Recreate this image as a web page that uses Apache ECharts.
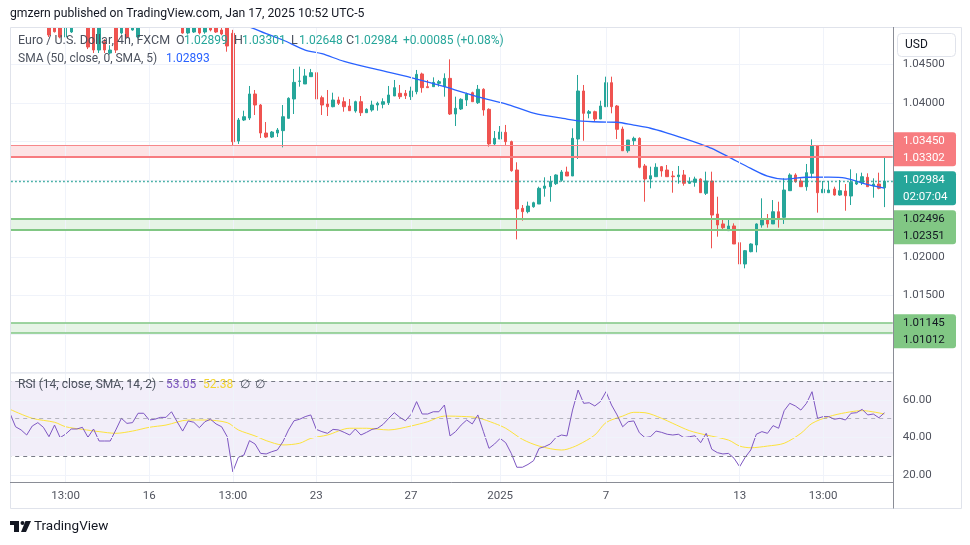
<!DOCTYPE html>
<html><head><meta charset="utf-8">
<script src="https://cdn.jsdelivr.net/npm/echarts@6/dist/echarts.min.js"></script>
<style>html,body{margin:0;padding:0;background:#fff}#c{width:970px;height:545px}</style>
</head><body><div id="c"></div><script>
// ---------- data ----------
const SLOTS = 159; // 158 candles + 1 empty slot on the right
const xLabelIdx = [10, 25, 40, 55, 72, 88, 107, 131, 146];
const xLabelText = ['13:00', '16', '13:00', '23', '27', '2025', '7', '13', '13:00'];

// [open, close, low, high]
const candles = [
[1.0520,1.0515,1.0510,1.0528],[1.0515,1.0526,1.0512,1.0530],[1.0526,1.0522,1.0518,1.0535],[1.0522,1.0511,1.0508,1.0527],
[1.0511,1.0506,1.0503,1.0520],[1.0506,1.0514,1.0502,1.0518],[1.0514,1.0505,1.0502,1.0519],[1.0505,1.04883,1.04857,1.0510],
[1.0500,1.04926,1.04915,1.0506],[1.0501,1.04857,1.0484,1.0507],[1.04857,1.0500,1.0484,1.0506],[1.04922,1.0505,1.0491,1.0510],
[1.0505,1.0512,1.0501,1.0515],[1.0512,1.0503,1.0500,1.0516],[1.0508,1.04727,1.0470,1.0512],[1.0502,1.04688,1.04649,1.0506],
[1.04688,1.0505,1.04649,1.0510],[1.04796,1.04688,1.04649,1.0483],[1.04649,1.04688,1.0463,1.0475],[1.0502,1.04688,1.04649,1.0506],
[1.04909,1.0505,1.0489,1.0510],[1.0505,1.04857,1.0484,1.0510],[1.04948,1.0504,1.0494,1.0508],[1.04857,1.0510,1.0484,1.0515],
[1.0510,1.0520,1.0503,1.0525],[1.0520,1.0516,1.0512,1.0530],[1.0516,1.0521,1.0506,1.0524],[1.0521,1.0510,1.0508,1.0526],
[1.0510,1.0514,1.0502,1.0518],[1.0514,1.0506,1.0503,1.0520],[1.0506,1.0512,1.0501,1.0515],[1.0512,1.04909,1.0490,1.0516],
[1.04909,1.0503,1.0489,1.0508],[1.04922,1.0506,1.0491,1.0510],[1.0506,1.04909,1.0489,1.0510],[1.04922,1.0502,1.0490,1.0507],
[1.0502,1.04948,1.0493,1.0505],[1.0503,1.04922,1.0491,1.0507],[1.04948,1.04896,1.0488,1.0501],[1.0502,1.04740,1.04666,1.0506],
[1.04905,1.03497,1.03442,1.0495],[1.03506,1.03779,1.03468,1.03805],[1.03779,1.03822,1.03766,1.0390],[1.03805,1.04117,1.03779,1.04221],
[1.04117,1.03974,1.03844,1.04169],[1.03974,1.0361,1.03545,1.03987],[1.0361,1.03558,1.03545,1.03753],[1.03558,1.03623,1.03545,1.03636],
[1.0361,1.03649,1.03558,1.03675],[1.03641,1.03822,1.03424,1.03974],[1.03801,1.04061,1.03795,1.04074],[1.04052,1.04268,1.03857,1.04442],
[1.04281,1.04286,1.04212,1.04472],[1.04247,1.04351,1.04247,1.04442],[1.04342,1.04394,1.04342,1.04442],[1.04394,1.04052,1.04052,1.04416],
[1.04069,1.03974,1.03844,1.04095],[1.03987,1.03952,1.03831,1.04169],[1.03952,1.04039,1.03944,1.04134],[1.04039,1.03996,1.03974,1.04082],
[1.04017,1.03952,1.03887,1.04074],[1.03961,1.039,1.03896,1.04052],[1.03896,1.04017,1.03874,1.0403],[1.04017,1.03874,1.03831,1.04091],
[1.03874,1.03918,1.0387,1.03931],[1.03909,1.03974,1.03887,1.0403],[1.03974,1.03996,1.039,1.04017],[1.03983,1.04017,1.03931,1.04061],
[1.04004,1.04104,1.03974,1.04221],[1.04091,1.04199,1.04091,1.04299],[1.04126,1.04082,1.04052,1.04234],[1.04126,1.04095,1.04052,1.04169],
[1.04082,1.04156,1.04039,1.04212],[1.04147,1.04372,1.04113,1.04429],[1.04377,1.04199,1.04134,1.04394],[1.04212,1.04199,1.04199,1.04299],
[1.04212,1.04268,1.04212,1.04333],[1.04255,1.04277,1.04212,1.04299],[1.04212,1.0432,1.04082,1.04385],[1.0432,1.03857,1.03844,1.04567],
[1.03857,1.03931,1.03701,1.04082],[1.03922,1.04048,1.03909,1.04061],[1.04039,1.04117,1.03961,1.04134],[1.04134,1.04017,1.04017,1.04147],
[1.04004,1.04178,1.03987,1.04234],[1.04178,1.03909,1.03835,1.04191],[1.03918,1.03468,1.03433,1.03931],[1.03468,1.03541,1.03446,1.03636],
[1.03532,1.03623,1.03532,1.03701],[1.03619,1.03498,1.03455,1.03715],[1.03498,1.03121,1.03108,1.03511],[1.0313,1.02623,1.02229,1.0323],
[1.02632,1.02589,1.02472,1.02675],[1.02589,1.02662,1.02567,1.02719],[1.02653,1.02705,1.0264,1.02718],[1.02688,1.02892,1.02688,1.02913],
[1.02892,1.02922,1.02783,1.03035],[1.02913,1.02978,1.02718,1.03052],[1.02952,1.03065,1.02935,1.03074],[1.02996,1.03104,1.02978,1.0313],
[1.03104,1.03052,1.03052,1.03173],[1.03052,1.03541,1.03052,1.03671],[1.03532,1.04156,1.03273,1.04364],[1.04156,1.03866,1.0351,1.04234],
[1.03866,1.03887,1.03801,1.03909],[1.03887,1.03792,1.03757,1.039],[1.03792,1.03961,1.03792,1.0403],[1.03952,1.04264,1.03952,1.04342],
[1.04264,1.03952,1.03866,1.04342],[1.03961,1.03658,1.03532,1.03974],[1.03662,1.0338,1.0338,1.03693],[1.0338,1.03519,1.03354,1.03519],
[1.0351,1.03541,1.03455,1.03563],[1.03541,1.03165,1.03152,1.03554],[1.03182,1.03013,1.02718,1.03208],[1.03013,1.03056,1.02892,1.03173],
[1.03043,1.03165,1.03043,1.03217],[1.03173,1.03117,1.03043,1.03182],[1.0313,1.03043,1.03043,1.03195],[1.03052,1.03043,1.02835,1.03117],
[1.03043,1.03065,1.02952,1.03182],[1.03065,1.02957,1.02926,1.0313],[1.02957,1.02978,1.02948,1.03035],[1.0297,1.03013,1.02913,1.03043],
[1.03013,1.02835,1.02835,1.03022],[1.02827,1.02987,1.02805,1.03108],[1.02987,1.02545,1.02113,1.03108],[1.02558,1.02416,1.02264,1.02783],
[1.02429,1.02381,1.02342,1.02481],[1.02342,1.02403,1.02342,1.0249],[1.02403,1.02169,1.02169,1.02437],[1.02186,1.01909,1.01757,1.02307],
[1.01909,1.02082,1.01853,1.02091],[1.02069,1.02169,1.02061,1.02178],[1.02156,1.02429,1.02061,1.02437],[1.02416,1.02481,1.02381,1.02762],
[1.0249,1.02429,1.02381,1.02558],[1.02429,1.02588,1.02429,1.0274],[1.02588,1.02502,1.02381,1.02718],[1.02515,1.0287,1.02429,1.03022],
[1.02861,1.03065,1.02861,1.03087],[1.03065,1.02978,1.02965,1.03087],[1.02987,1.02913,1.02913,1.03022],[1.02913,1.03095,1.02861,1.03208],
[1.03087,1.03442,1.03022,1.03528],[1.03442,1.02835,1.02576,1.03455],[1.02835,1.02879,1.02835,1.02987],[1.02835,1.0287,1.02835,1.02987],
[1.02883,1.02805,1.02796,1.02913],[1.02805,1.02861,1.02796,1.03],[1.02857,1.02796,1.02601,1.02948],[1.02792,1.0297,1.02675,1.03139],
[1.02948,1.0297,1.02935,1.03087],[1.02965,1.03043,1.02935,1.03095],[1.03035,1.02913,1.02913,1.03087],[1.02922,1.02948,1.0277,1.03022],
[1.02948,1.02892,1.02879,1.03095],[1.02899,1.02984,1.02648,1.03301]
];

// SMA(50) read at sampled candles: [candle index, value]
const smaPts = [[0,1.0538],[10,1.0534],[20,1.0527],[30,1.0519],[38,1.0512],[43,1.0499],[46,1.0490],[49,1.04818],[53,1.04688],
[56,1.04640],[60,1.04540],[66,1.04432],[72,1.04330],[78,1.04212],[84,1.04080],[89,1.03990],[94,1.03868],[100,1.03792],
[102,1.03768],[106,1.03753],[109,1.03750],[112,1.03712],[115,1.03672],[118,1.03610],[121,1.03540],[124,1.03465],[126,1.03410],
[129,1.03300],[133,1.03150],[136,1.03050],[139,1.03012],[143,1.03036],[147,1.03038],[150,1.03025],[153,1.02960],[157,1.02893]];

const rsi = [52.8,45.6,43.9,41.2,46,47.8,45.3,40.3,46.5,39.8,41.7,44.4,44.4,45.3,40,44.4,38,38,38,43.9,
50.1,47.4,47.8,52.8,52.8,49.2,49.6,50.6,50.6,53.6,48.3,43.3,48.7,48,45.1,48.3,49.6,47.1,45.6,40.3,
21.6,29.3,30.5,38.2,36.4,31.4,31.1,32.3,33.2,37.6,43.9,48.8,49.6,51,51.9,44.2,43,42.1,44.2,43.9,
42.6,41.2,44.4,41.2,42.6,44.2,44.8,46.9,50.1,53.1,50.6,48.8,52.2,59,52.4,52.4,53.6,53.6,57.2,40.7,
43,46.5,49.2,47.1,51.9,43,34.1,36.4,39.4,37.1,31.4,24,24,25.5,27.5,34.1,35,36.4,39.8,41.2,
40.7,54.5,65.2,58.1,58.4,56.7,59,64.3,57.2,51.9,45.6,48.3,48.7,42.4,39.8,40.3,43.3,42.6,41.6,41.2,
41.6,39.8,40.3,40.8,37.1,42.1,33.6,31.8,31.1,31.4,28.8,24.3,29.3,33.2,41.6,43,42.1,46.2,44.8,54.2,
58.1,56.7,54.5,58.1,64.3,50.1,51,51,49.6,50.1,49.2,52.8,53.1,54.9,51.9,52.4,50.4,53.05];

// RSI-based moving average read at sampled candles
const rsiMaPts = [[0,54.9],[4,50.1],[8,48],[10,45.6],[13,44.2],[16,43],[19,42.1],[22,43.3],[25,45.3],[28,46.5],[32,49.2],
[35,49.2],[39,47.8],[41,43.9],[44,40.7],[46,38.2],[49,35.9],[52,36.8],[54,39.4],[57,41.2],[61,44.8],[64,44.8],[68,43.9],
[72,46],[75,48.3],[78,51.3],[82,51],[84,50.4],[87,47.4],[89,44.8],[92,38.9],[95,35.3],[99,33.2],[100,33.6],[102,35.9],
[105,41.2],[107,47.8],[110,51.3],[112,53.3],[114,53.1],[117,50.1],[119,47.4],[122,43.5],[125,41.2],[129,38.5],[131,35.3],
[133,34.4],[136,35.3],[139,36.8],[142,42.1],[144,47.4],[147,51],[150,53.1],[153,54.2],[157,52.38]];

const resistance = [1.03450, 1.03302];
const support1 = [1.02496, 1.02351];
const support2 = [1.01145, 1.01012];
const lastPrice = 1.02984;
const countdown = '02:07:04';
const rsiUpper = 70, rsiMid = 50, rsiLower = 30;
const rsiGridLevels = [20, 40, 60];

// ---------- chart ----------
const FONT = 'Roboto, "Noto Sans", sans-serif';
const GRIDC = '#f0f3fa';
const cats = Array.from({length: SLOTS}, (_, i) => String(i));
const f5 = v => v.toFixed(5);
const vLines = xLabelIdx.map(i => ({xAxis: i, lineStyle: {color: GRIDC, width: 1, type: 'solid'}}));

const option = {
  animation: false,
  backgroundColor: '#ffffff',
  grid: [
    {left: 7.2, width: 885.6, top: 26, height: 346.5},
    {left: 7.2, width: 885.6, top: 373.5, height: 108.75}
  ],
  xAxis: [
    {type: 'category', gridIndex: 0, data: cats, boundaryGap: true, show: false},
    {type: 'category', gridIndex: 1, data: cats, boundaryGap: true,
      axisLine: {show: false}, axisTick: {show: false}, splitLine: {show: false},
      axisLabel: {
        interval: (i) => xLabelIdx.indexOf(i) >= 0,
        formatter: (v) => { const k = xLabelIdx.indexOf(+v); return k >= 0 ? xLabelText[k] : ''; },
        color: '#50535e', fontSize: 11.5, fontFamily: FONT, margin: 8
      }}
  ],
  yAxis: [
    {type: 'value', gridIndex: 0, position: 'right', min: 1.005, max: 1.050, interval: 0.005,
      axisLine: {show: false}, axisTick: {show: false},
      axisLabel: {formatter: v => v.toFixed(5), color: '#50535e', fontSize: 11.5, fontFamily: FONT, margin: 10,
        showMinLabel: false, showMaxLabel: false},
      splitLine: {show: true, lineStyle: {color: GRIDC, width: 1}}},
    {type: 'value', gridIndex: 1, position: 'right', min: 16, max: 74, interval: 2,
      axisLine: {show: false}, axisTick: {show: false},
      axisLabel: {formatter: v => rsiGridLevels.indexOf(Math.round(v)) >= 0 ? v.toFixed(2) : '',
        color: '#50535e', fontSize: 11.5, fontFamily: FONT, margin: 10, showMinLabel: false, showMaxLabel: false},
      splitLine: {show: false}}
  ],
  series: [
    { // bands, levels and vertical grid lines for the price pane
      type: 'line', xAxisIndex: 0, yAxisIndex: 0, data: [], z: 1, silent: true,
      markArea: {silent: true, data: [
        [{yAxis: resistance[0], itemStyle: {color: 'rgba(242,54,69,0.14)'}}, {yAxis: resistance[1]}],
        [{yAxis: support1[0], itemStyle: {color: 'rgba(76,175,80,0.14)'}}, {yAxis: support1[1]}],
        [{yAxis: support2[0], itemStyle: {color: 'rgba(76,175,80,0.14)'}}, {yAxis: support2[1]}]
      ]},
      markLine: {silent: true, precision: 6, symbol: ['none', 'none'], label: {show: false}, data: vLines.concat([
        {yAxis: resistance[0], lineStyle: {color: '#f7878b', width: 1, type: 'solid'}},
        {yAxis: resistance[1], lineStyle: {color: '#f77c80', width: 2, type: 'solid'}},
        {yAxis: support1[0], lineStyle: {color: '#81c784', width: 2, type: 'solid'}},
        {yAxis: support1[1], lineStyle: {color: '#81c784', width: 2, type: 'solid'}},
        {yAxis: support2[0], lineStyle: {color: '#81c784', width: 1.5, type: 'solid'}},
        {yAxis: support2[1], lineStyle: {color: '#81c784', width: 1.5, type: 'solid'}},
        {yAxis: lastPrice, lineStyle: {color: '#1e9e91', width: 1.4, type: [1.5, 2.5]}}
      ])}
    },
    {
      type: 'candlestick', xAxisIndex: 0, yAxisIndex: 0, data: candles, z: 3, barWidth: 3, clip: true,
      itemStyle: {color: '#26a69a', color0: '#ef5350', borderColor: '#26a69a', borderColor0: '#ef5350', borderWidth: 1}
    },
    {
      type: 'line', xAxisIndex: 0, yAxisIndex: 0, data: smaPts, z: 4, showSymbol: false, smooth: 0.3,
      lineStyle: {color: '#2962ff', width: 1.3}
    },
    { // RSI pane: band, levels, grid lines
      type: 'line', xAxisIndex: 1, yAxisIndex: 1, data: [], z: 1, silent: true,
      markArea: {silent: true, data: [[{yAxis: rsiUpper, itemStyle: {color: 'rgba(126,87,194,0.1)'}}, {yAxis: rsiLower}]]},
      markLine: {silent: true, precision: 4, symbol: ['none', 'none'], label: {show: false}, data: vLines.concat(
        rsiGridLevels.map(v => ({yAxis: v, lineStyle: {color: GRIDC, width: 1, type: 'solid'}})),
        [
          {yAxis: rsiUpper, lineStyle: {color: '#787b86', width: 1, type: [4, 4]}},
          {yAxis: rsiLower, lineStyle: {color: '#787b86', width: 1, type: [4, 4]}},
          {yAxis: rsiMid, lineStyle: {color: 'rgba(120,123,134,0.5)', width: 1, type: [4, 4]}}
        ])}
    },
    {
      type: 'line', xAxisIndex: 1, yAxisIndex: 1, data: rsi, z: 4, showSymbol: false,
      lineStyle: {color: '#7e57c2', width: 1}
    },
    {
      type: 'line', xAxisIndex: 1, yAxisIndex: 1, data: rsiMaPts, z: 3, showSymbol: false, smooth: 0.3,
      lineStyle: {color: '#fde33b', width: 1}
    }
  ]
};

const chart = echarts.init(document.getElementById('c'));
chart.setOption(option);

// ---------- overlays ----------
const g = [];
const txt = (text, x, y, fill, size, extra) => ({type: 'text', z: 100, silent: true,
  style: Object.assign({text: text, x: x, y: y, fill: fill, font: (size || 12.5) + 'px ' + FONT,
    verticalAlign: 'middle', align: 'left'}, extra || {})});
const line = (x1, y1, x2, y2, color) => ({type: 'line', z: 99, silent: true,
  shape: {x1: x1, y1: y1, x2: x2, y2: y2}, style: {stroke: color, lineWidth: 1}});

// white margins outside the panes, frame, separators
g.push({type: 'rect', z: 98, silent: true, shape: {x: 0, y: 0, width: 970, height: 27}, style: {fill: '#fff'}});
g.push({type: 'rect', z: 98, silent: true, shape: {x: 0, y: 20, width: 10, height: 470}, style: {fill: '#fff'}});
g.push({type: 'rect', z: 99, silent: true, shape: {x: 10.5, y: 27.5, width: 951, height: 481}, style: {fill: null, stroke: '#e0e3eb', lineWidth: 1}});
g.push(line(10, 373, 893, 373, '#e0e3eb'));
g.push(line(10, 482.5, 893.5, 482.5, '#8a8d96'));
g.push(line(893.5, 27, 893.5, 508.5, '#8a8d96'));

// header + legends
g.push(txt('gmzern published on TradingView.com, Jan 17, 2025 10:52 UTC-5', 10, 14, '#131722', 12.2));
const GRAY = '#4c525e', UP = '#26a69a';
g.push(txt('Euro / U.S. Dollar, 4h, FXCM', 18, 41, GRAY));
[['O', 1.02899, 176], ['H', 1.03301, 234], ['L', 1.02648, 291], ['C', 1.02984, 346]].forEach(([k, v, x]) => {
  g.push(txt(k, x, 41, GRAY));
  g.push(txt(f5(v), x + 8, 41, UP, 12));
});
g.push(txt('+0.00085 (+0.08%)', 403, 41, UP, 12));
g.push(txt('SMA (50, close, 0, SMA, 5)', 18, 59, GRAY, 12));
g.push(txt(f5(smaPts[smaPts.length - 1][1]), 166, 59, '#2962ff', 12));
g.push(txt('RSI (14, close, SMA, 14, 2)', 18, 385, GRAY, 12));
g.push(txt(rsi[rsi.length - 1].toFixed(2), 166, 385, '#7e57c2', 12));
g.push(txt(rsiMaPts[rsiMaPts.length - 1][1].toFixed(2), 203, 385, '#f2d42e', 12));
g.push(txt('∅', 240, 385, GRAY, 12));
g.push(txt('∅', 255, 385, GRAY, 12));

// USD box
g.push({type: 'rect', z: 100, silent: true, shape: {x: 897.5, y: 33.5, width: 58, height: 23, r: 4}, style: {fill: '#fff', stroke: '#e0e3eb', lineWidth: 1}});
g.push(txt('USD', 905, 45, '#131722', 12));

// price labels on the axis
const boxDefs = [
  {vals: resistance, lines: resistance.map(f5), bg: '#f77c80', fg: '#ffffff'},
  {vals: [lastPrice], lines: [f5(lastPrice), countdown], bg: '#26a69a', fg: '#ffffff'},
  {vals: support1, lines: support1.map(f5), bg: '#81c784', fg: '#131722'},
  {vals: support2, lines: support2.map(f5), bg: '#81c784', fg: '#131722'}
];
const BH = 34, GAP = 5;
boxDefs.forEach(b => { b.top = chart.convertToPixel({yAxisIndex: 0}, b.vals[0]) - 8.5; });
for (let k = boxDefs.length - 2; k >= 0; k--) {
  const nx = boxDefs[k + 1];
  if (boxDefs[k].top + BH + GAP > nx.top) boxDefs[k].top = nx.top - BH - GAP;
}
boxDefs.forEach(b => {
  g.push({type: 'rect', z: 100, silent: true, shape: {x: 894, y: b.top, width: 62, height: BH, r: [0, 3, 3, 0]}, style: {fill: b.bg}});
  g.push(txt(b.lines[0], 903, b.top + 8.5, b.fg, 11.5));
  g.push(txt(b.lines[1], 903, b.top + 25.5, b.fg, 11.5));
});

// TradingView logo
g.push({type: 'rect', z: 100, silent: true, shape: {x: 10, y: 521, width: 9, height: 4}, style: {fill: '#131722'}});
g.push({type: 'rect', z: 100, silent: true, shape: {x: 14, y: 521, width: 5, height: 11}, style: {fill: '#131722'}});
g.push({type: 'circle', z: 100, silent: true, shape: {cx: 22.5, cy: 523, r: 2}, style: {fill: '#131722'}});
g.push({type: 'polygon', z: 100, silent: true, shape: {points: [[25.5, 521], [31, 521], [26, 532], [21, 532]]}, style: {fill: '#131722'}});
g.push(txt('TradingView', 34, 527, '#131722', 13.5));

chart.setOption({graphic: {elements: g}});
</script></body></html>
